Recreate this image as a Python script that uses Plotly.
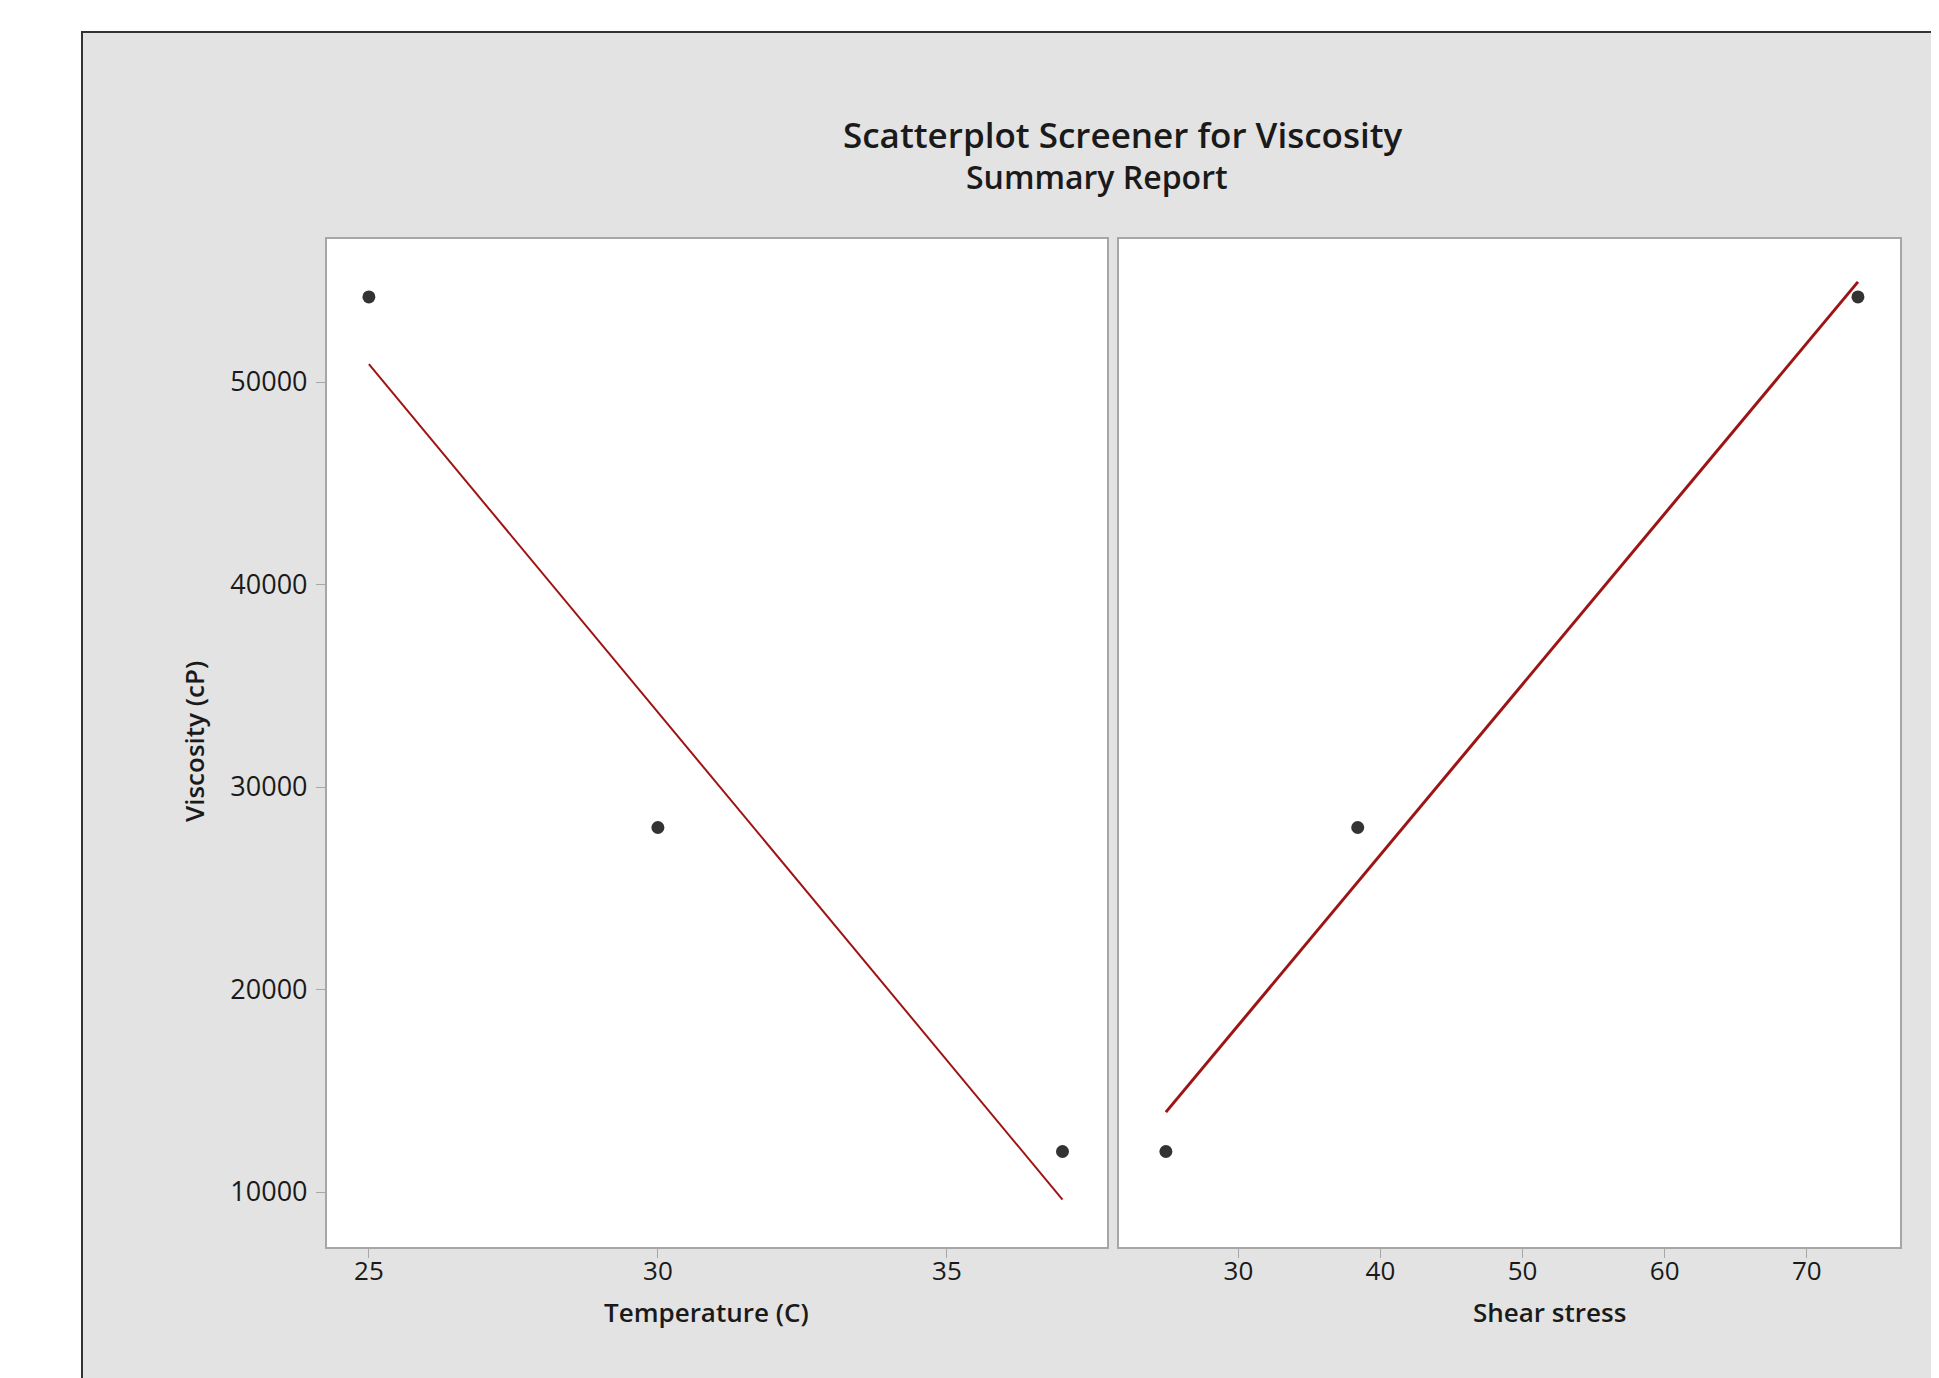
import numpy as np
import plotly.graph_objects as go

# ---- data ----
temperature = [25, 30, 37]
shear_stress = [73.6, 38.4, 24.9]
viscosity = [54200, 28000, 12000]

y_ticks = [10000, 20000, 30000, 40000, 50000]
x1_ticks = [25, 30, 35]
x2_ticks = [30, 40, 50, 60, 70]

W, H = 1939, 1378
OFF = 8  # page body margin
FONT = "Open Sans"
TXT = "#1a1a1a"
FIT = "#9e1414"
MARK = "#333333"
GRID = "#a6a6a6"


def px(x):
    return (x - OFF) / W


def py(y):
    return 1 - (y - OFF) / H


fig = go.Figure()

# fitted regression lines computed from the data
b1, a1 = np.polyfit(temperature, viscosity, 1)
xt = np.array([min(temperature), max(temperature)])
fig.add_trace(go.Scatter(x=xt, y=a1 + b1 * xt, mode="lines",
                         line=dict(color=FIT, width=2),
                         xaxis="x", yaxis="y", showlegend=False, hoverinfo="skip"))
fig.add_trace(go.Scatter(x=temperature, y=viscosity, mode="markers",
                         marker=dict(color=MARK, size=13),
                         xaxis="x", yaxis="y", showlegend=False))

b2, a2 = np.polyfit(shear_stress, viscosity, 1)
xs = np.array([min(shear_stress), max(shear_stress)])
fig.add_trace(go.Scatter(x=xs, y=a2 + b2 * xs, mode="lines",
                         line=dict(color=FIT, width=3),
                         xaxis="x2", yaxis="y2", showlegend=False, hoverinfo="skip"))
fig.add_trace(go.Scatter(x=shear_stress, y=viscosity, mode="markers",
                         marker=dict(color=MARK, size=13),
                         xaxis="x2", yaxis="y2", showlegend=False))

axis_common = dict(showgrid=False, zeroline=False, showline=True, mirror=True,
                   linecolor=GRID, linewidth=1.5, ticklen=9,
                   tickcolor=GRID, tickwidth=1.2)
xfont = dict(family=FONT, size=26, color=TXT)
yfont = dict(family=FONT, size=27, color=TXT)

LX0, LX1, RX0, RX1 = 326.7, 1107, 1119, 1900
Y0, Y1 = 239, 1247
YR = [7284, 57062]
fig.update_layout(
    width=W, height=H,
    margin=dict(l=0, r=0, t=0, b=0),
    paper_bgcolor="white",
    plot_bgcolor="white",
    xaxis=dict(domain=[px(LX0), px(LX1)], range=[24.27, 37.77], ticks="outside",
               tickvals=x1_ticks, anchor="y", ticklabelstandoff=-9,
               tickfont=xfont, **axis_common),
    xaxis2=dict(domain=[px(RX0), px(RX1)], range=[21.6, 76.56], ticks="outside",
                tickvals=x2_ticks, anchor="y2", ticklabelstandoff=-9,
                tickfont=xfont, **axis_common),
    yaxis=dict(domain=[py(Y1), py(Y0)], range=YR, ticks="outside", tickformat="d",
               tickvals=y_ticks, anchor="x", ticklabelstandoff=3,
               tickfont=yfont, **axis_common),
    yaxis2=dict(domain=[py(Y1), py(Y0)], range=YR, ticks="",
                showticklabels=False, anchor="x2", **axis_common),
)

# gray report background with dark frame
fig.add_shape(type="rect", xref="paper", yref="paper",
              x0=px(82), x1=1.02, y0=-0.02, y1=py(32),
              fillcolor="#e3e3e3", line=dict(color="#333333", width=2),
              layer="below")
# white panel backgrounds
for x0, x1 in [(LX0, LX1), (RX0, RX1)]:
    fig.add_shape(type="rect", xref="paper", yref="paper",
                  x0=px(x0), x1=px(x1), y0=py(Y1), y1=py(Y0),
                  fillcolor="white", line=dict(width=0), layer="below")

anns = [
    dict(text="Scatterplot Screener for Viscosity", x=px(1123), y=py(134),
         size=35, weight=600),
    dict(text="Summary Report", x=px(1097), y=py(177), size=32, weight=600),
    dict(text="Temperature (C)", x=px(706), y=py(1312), size=26, weight=600),
    dict(text="Shear stress", x=px(1549), y=py(1312), size=26, weight=600),
]
for a in anns:
    fig.add_annotation(text=a["text"], x=a["x"], y=a["y"], xref="paper", yref="paper",
                       xanchor="center", yanchor="middle", showarrow=False,
                       font=dict(family=FONT, size=a["size"], color=TXT, weight=a["weight"]))
fig.add_annotation(text="Viscosity (cP)", x=px(194), y=py(742), xref="paper", yref="paper",
                   xanchor="center", yanchor="middle", showarrow=False, textangle=-90,
                   font=dict(family=FONT, size=26, color=TXT, weight=600))

fig.write_html("out.html")
